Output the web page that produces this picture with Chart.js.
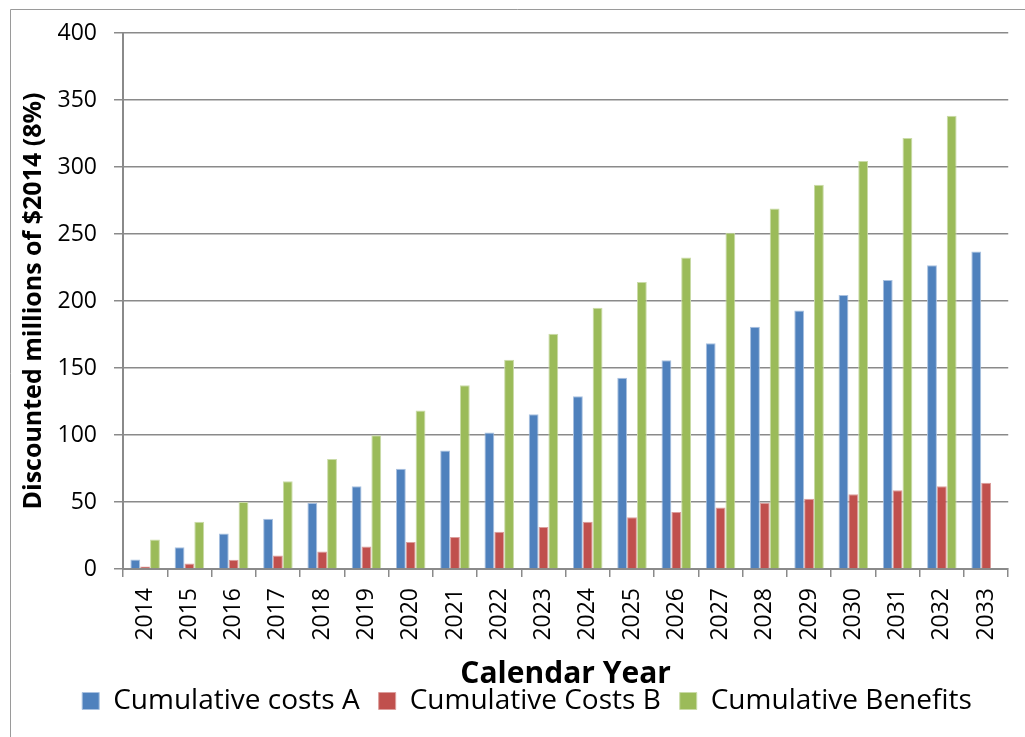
<!DOCTYPE html>
<html lang="en">
<head>
  <meta charset="UTF-8">
  <title>Cumulative costs and benefits</title>
  <script src="https://cdn.jsdelivr.net/npm/chart.js"></script>
  <style>
    body { margin: 0; background: #fff; }
    #chartBox { width: 1025px; height: 737px; }
  </style>
</head>
<body>
  <div id="chartBox">
    <canvas id="myChart" width="1025" height="737"></canvas>
  </div>

  <script>
    const years = ['2014', '2015', '2016', '2017', '2018', '2019', '2020', '2021', '2022', '2023',
                   '2024', '2025', '2026', '2027', '2028', '2029', '2030', '2031', '2032', '2033'];
    const costsA = [7, 16.3, 26.5, 37.5, 49.2, 61.7, 74.8, 88.4, 101.8, 115.5,
                    129, 142.7, 155.7, 168.5, 180.8, 193, 204.5, 215.7, 226.7, 236.9];
    const costsB = [1.9, 4.1, 6.9, 10.1, 13.1, 16.8, 20.2, 23.8, 27.8, 31.3,
                    35.3, 38.7, 42.5, 45.9, 49.5, 52.5, 55.7, 58.7, 61.7, 64.4];
    const benefits = [22.1, 35.3, 50, 65.4, 82.1, 99.8, 118.3, 137.2, 156.1, 175.6,
                      195, 214.2, 232.4, 251, 269, 286.7, 304.5, 321.6, 338.3, null];
    const yTicks = [0, 50, 100, 150, 200, 250, 300, 350, 400];

    const font = "'Open Sans', 'DejaVu Sans', sans-serif";
    const gridGrey = '#8a8a8a';

    // thin grey frame along the top and left edge of the page
    const framePlugin = {
      id: 'frame',
      beforeDraw(chart) {
        const ctx = chart.ctx;
        ctx.save();
        ctx.strokeStyle = '#9a9a9a';
        ctx.lineWidth = 1;
        ctx.beginPath();
        ctx.moveTo(1025, 9.5);
        ctx.lineTo(10.5, 9.5);
        ctx.lineTo(10.5, 737);
        ctx.stroke();
        ctx.restore();
      }
    };

    function series(label, values, fill, edge) {
      return {
        label: label,
        data: values,
        backgroundColor: fill,
        borderColor: edge,
        borderWidth: 1,
        borderSkipped: 'bottom',
        categoryPercentage: 0.667,
        barPercentage: 1
      };
    }

    const data = {
      labels: years,
      datasets: [
        series('Cumulative costs A', costsA, '#4f81bd', '#a9c1e0'),
        series('Cumulative Costs B', costsB, '#c0504d', '#dc9e9c'),
        series('Cumulative Benefits', benefits, '#9bbb59', '#cadba8')
      ]
    };

    const config = {
      type: 'bar',
      data,
      plugins: [framePlugin],
      options: {
        responsive: false,
        animation: false,
        devicePixelRatio: 1,
        // left padding also nudges the centred legend to the right
        layout: { padding: { left: 41, right: 12, top: 33, bottom: 12 } },
        plugins: {
          tooltip: { enabled: false },
          legend: {
            position: 'bottom',
            labels: {
              boxWidth: 17,
              boxHeight: 17,
              padding: 19,
              color: '#000',
              font: { family: font, size: 28 }
            }
          }
        },
        scales: {
          x: {
            afterFit(scale) { scale.height = 99; },
            grid: {
              offset: true,
              drawOnChartArea: false,
              drawTicks: true,
              tickLength: 8,
              color: gridGrey,
              lineWidth: 1.5
            },
            border: { color: gridGrey, width: 2 },
            ticks: {
              autoSkip: false,
              minRotation: 90,
              maxRotation: 90,
              padding: 11,
              color: '#000',
              font: { family: font, size: 23 }
            },
            title: {
              display: true,
              text: 'Calendar Year',
              color: '#000',
              font: { family: font, size: 30, weight: 'bold', lineHeight: 1 },
              padding: { top: 0, bottom: -21 }
            }
          },
          y: {
            min: 0,
            max: 400,
            afterFit(scale) { scale.width = 82; },
            afterBuildTicks(scale) { scale.ticks = yTicks.map(v => ({ value: v })); },
            grid: {
              color: gridGrey,
              lineWidth: 1.5,
              tickLength: 9
            },
            border: { color: gridGrey, width: 2 },
            ticks: {
              padding: 17,
              color: '#000',
              font: { family: font, size: 23 }
            },
            title: {
              display: true,
              text: 'Discounted millions of $2014 (8%)',
              color: '#000',
              font: { family: font, size: 25, weight: 'bold', lineHeight: 1 },
              padding: { top: -20, bottom: 0 }
            }
          }
        }
      }
    };

    const myChart = new Chart(document.getElementById('myChart'), config);
  </script>
</body>
</html>
